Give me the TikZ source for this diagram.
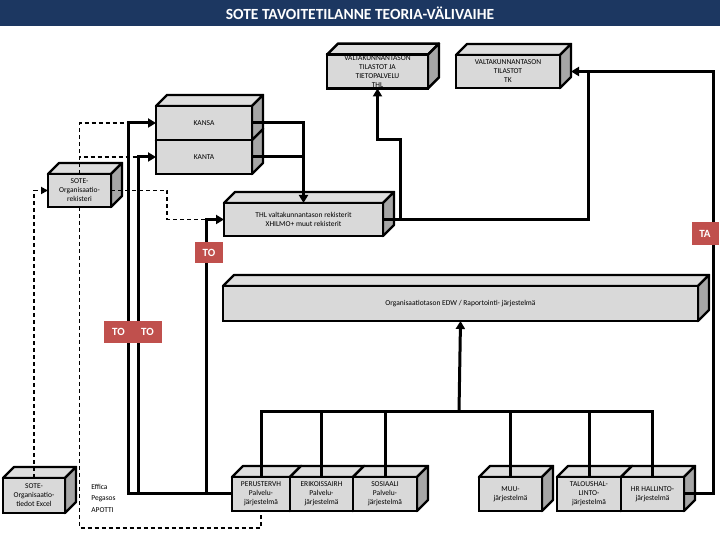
\documentclass[tikz,border=0pt]{standalone}
\usepackage{fontspec}
\setmainfont{Carlito}
\usetikzlibrary{arrows.meta}
\pgfdeclarelayer{background}
\pgfsetlayers{background,main}
\definecolor{titlebar}{HTML}{1C3761}
\definecolor{tagred}{HTML}{C0504D}
\definecolor{frontgrey}{HTML}{D9D9D9}
\definecolor{topgrey}{HTML}{DEDEDE}
\definecolor{sidegrey}{HTML}{A6A6A6}

\begin{document}
\begin{tikzpicture}[
  x=1pt, y=1pt,
  >={Triangle[length=8pt,width=9pt]},
  every node/.style={outer sep=0pt},
  box/.style={draw, line width=2.4pt, fill=frontgrey, align=center, inner sep=1pt,
    font=\fontsize{7.5}{9}\selectfont},
  topface/.style={draw, line width=2.4pt, fill=topgrey, line join=round},
  sideface/.style={draw, line width=2.4pt, fill=sidegrey, line join=round},
  flow/.style={draw, line width=3pt},
  link/.style={draw, line width=1.9pt, dash pattern=on 4pt off 3pt},
  tag/.style={fill=tagred, text=white, font=\fontsize{11}{13}\selectfont\bfseries,
    minimum width=28pt, minimum height=21pt, inner sep=0pt}
]
\useasboundingbox (0,0) rectangle (720,540);
\node[fill=titlebar, text=white, minimum width=720pt, minimum height=26pt,
  font=\fontsize{15.5}{17}\selectfont\bfseries] (title) at (360,527) {SOTE TAVOITETILANNE TEORIA-VÄLIVAIHE};

% national level
\node[box, minimum width=101pt, minimum height=33pt] (vtt) at (377.5,468.5) {VALTAKUNNANTASON\\TILASTOT JA\\TIETOPALVELU\\THL};
\node[box, minimum width=104pt, minimum height=33pt] (tk) at (508,468.5) {VALTAKUNNANTASON\\TILASTOT\\TK};
\node[box, minimum width=96pt, minimum height=34pt] (kansa) at (204,417) {KANSA};
\node[box, minimum width=96pt, minimum height=34pt] (kanta) at (204,383) {KANTA};
\node[box, minimum width=63pt, minimum height=33pt] (rek) at (79.5,349.5) {SOTE-\\Organisaatio-\\rekisteri};
\node[box, minimum width=159pt, minimum height=33pt] (thl) at (303.5,320.5) {THL valtakunnantason rekisterit\\XHILMO+ muut rekisterit};

% organisation level
\node[box, minimum width=475pt, minimum height=35pt] (edw) at (460.5,236.5) {Organisaatiotason EDW / Raportointi- järjestelmä};
\node[box, minimum width=58pt, minimum height=34pt] (perus) at (261,46) {PERUSTERVH\\Palvelu-\\järjestelmä};
\node[box, minimum width=63pt, minimum height=34pt] (erik) at (321.5,46) {ERIKOISSAIRH\\Palvelu-\\järjestelmä};
\node[box, minimum width=64pt, minimum height=34pt] (sos) at (385,46) {SOSIAALI\\Palvelu-\\järjestelmä};
\node[box, minimum width=63pt, minimum height=34pt] (muu) at (510.5,46) {MUU-\\järjestelmä};
\node[box, minimum width=64pt, minimum height=34pt] (tal) at (589,46) {TALOUSHAL-\\LINTO-\\järjestelmä};
\node[box, minimum width=63pt, minimum height=34pt] (hr) at (652.5,46) {HR HALLINTO-\\järjestelmä};
\node[box, minimum width=62pt, minimum height=35pt] (excel) at (34,44.5) {SOTE-\\Organisaatio-\\tiedot Excel};
\node[align=left, anchor=west, font=\fontsize{7.5}{11.5}\selectfont] (effica) at (88,42) {Effica\\Pegasos\\APOTTI};

% 3d faces
\begin{pgfonlayer}{background}
\foreach \n in {vtt,tk,kanta,kansa,rek,thl,edw,perus,erik,sos,muu,tal,hr,excel} {
  \draw[topface] (\n.north west) -- ([shift={(11,11)}]\n.north west)
    -- ([shift={(11,11)}]\n.north east) -- (\n.north east) -- cycle;
  \draw[sideface] (\n.north east) -- ([shift={(11,11)}]\n.north east)
    -- ([shift={(11,11)}]\n.south east) -- (\n.south east) -- cycle;
}
\end{pgfonlayer}

\coordinate (tkj) at (588,468.5);
\coordinate (rc) at (713,468.5);
\coordinate (bus) at (459,128);

% solid flows
\draw[flow,->] (kansa.east) -| (thl.north);
\draw[flow] (kanta.east) -- (kanta.east -| thl.north);
\draw[flow] (thl.east) -| (tkj);
\draw[flow,->] (hr.east) -| (rc) -- ([xshift=11pt]tk.east);
\draw[flow,->] ([xshift=17pt]thl.east) |- ([yshift=-51pt]vtt.south) -- (vtt.south);
\draw[flow,->] (bus) -- (edw.south);
\foreach \n in {perus,erik,sos,muu,tal,hr}
  \draw[flow] (\n.north) |- (bus);
\draw[flow,->] (perus.west) -| ([xshift=-28pt]kansa.west) -- (kansa.west);
\draw[flow,->] (perus.west) -| ([xshift=-18pt]kanta.west) -- (kanta.west);
\draw[flow,->] (perus.west) -| ([xshift=-18pt]thl.west) -- (thl.west);

% dashed links
\draw[link] (rek.north) |- ([xshift=-28pt]kansa.west);
\draw[link] (rek.north) |- ([xshift=-18pt]kanta.west);
\draw[link] (rek.south) |- ([yshift=-17pt]perus.south) -- (perus.south);
\draw[link,->,>={Triangle[length=7pt,width=7pt]}] (excel.north) |- (rek.west);
\draw[link] (rek.east) -| ([xshift=-57pt]thl.west) -- ([xshift=-18pt]thl.west);

% tags
\node[tag] (to) at (209,287.5) {TO};
\node[tag, minimum width=29pt, minimum height=22pt] (toa) at (118.5,208) {TO};
\node[tag, minimum width=29pt, minimum height=22pt] (tob) at (147.5,208) {TO};
\node[tag, minimum width=27pt, minimum height=23pt] (ta) at (705,306) {TA};
\end{tikzpicture}
\end{document}
